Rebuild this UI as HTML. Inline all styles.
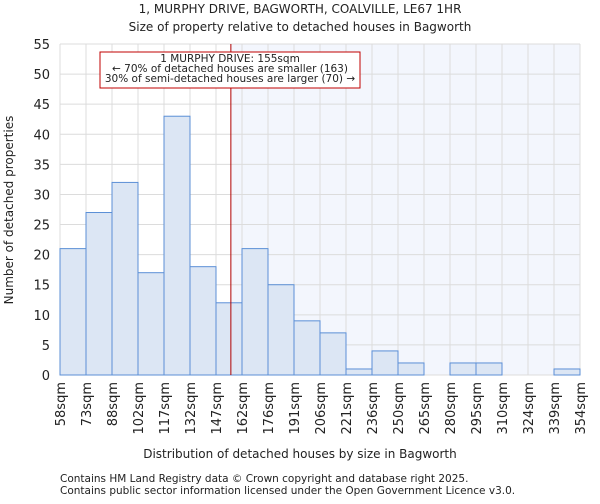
<!DOCTYPE html>
<html><head><meta charset="utf-8"><style>
body{margin:0;background:#fff;font-family:"DejaVu Sans","Liberation Sans",sans-serif}
svg text{font-family:"DejaVu Sans","Liberation Sans",sans-serif;fill:#222}
</style></head><body>
<svg id="c" width="600" height="500" xmlns="http://www.w3.org/2000/svg">
<text x="300" y="13" text-anchor="middle" font-size="12">1, MURPHY DRIVE, BAGWORTH, COALVILLE, LE67 1HR</text>
<text x="300" y="31" text-anchor="middle" font-size="12">Size of property relative to detached houses in Bagworth</text>
<g id="plot"></g>
<text x="300" y="458" text-anchor="middle" font-size="12">Distribution of detached houses by size in Bagworth</text>
<text transform="translate(13,210) rotate(-90)" text-anchor="middle" font-size="12">Number of detached properties</text>
<text x="60" y="482" font-size="10.5" fill="#444">Contains HM Land Registry data © Crown copyright and database right 2025.</text>
<text x="60" y="494" font-size="10.5" fill="#444">Contains public sector information licensed under the Open Government Licence v3.0.</text>
</svg>
<script>
const categories=["58sqm","73sqm","88sqm","102sqm","117sqm","132sqm","147sqm","162sqm","176sqm","191sqm","206sqm","221sqm","236sqm","250sqm","265sqm","280sqm","295sqm","310sqm","324sqm","339sqm","354sqm"];
const counts=[21,27,32,17,43,18,12,21,15,9,7,1,4,2,0,2,2,0,0,1];
const yTicks=[0,5,10,15,20,25,30,35,40,45,50,55];
const binEdges=[58,73,88,102,117,132,147,162,176,191,206,221,236,250,265,280,295,310,324,339,354];
const marker=155;
const NS="http://www.w3.org/2000/svg";
const g=document.getElementById('plot');
const X0=60,X1=580,Y0=375,Y1=44,YMAX=55;
const bw=(X1-X0)/counts.length;
const xi=i=>X0+i*bw;
const y=v=>Y0-(v/YMAX)*(Y0-Y1);
function mk(t,a){const e=document.createElementNS(NS,t);for(const k in a)e.setAttribute(k,a[k]);g.appendChild(e);return e;}
function xv(v){for(let i=0;i<binEdges.length-1;i++){if(v>=binEdges[i]&&v<=binEdges[i+1])return xi(i)+(v-binEdges[i])/(binEdges[i+1]-binEdges[i])*bw;}return X1;}
const mx=xv(marker)+1;
let e=mk('rect',{x:mx,y:Y1,width:X1-mx,height:Y0-Y1,fill:'#f3f6fd'});


yTicks.forEach(t=>{
 let l=mk('line',{x1:X0,x2:X1,y1:y(t),y2:y(t),stroke:'#dcdcdc'});
 
 
 let tx=mk('text',{x:X0-10,y:y(t)+5,'text-anchor':'end','font-size':'13'});tx.textContent=t;
 
 
});
categories.forEach((c,i)=>{
 let l=mk('line',{x1:xi(i),x2:xi(i),y1:Y1,y2:Y0,stroke:'#dcdcdc'});
 
 
 let tx=mk('text',{transform:`translate(${xi(i)+5},${Y0+7}) rotate(-90)`,'text-anchor':'end','font-size':'13'});tx.textContent=c;
 
 
});
counts.forEach((v,i)=>{
 if(v<=0)return;
 let r=mk('rect',{x:xi(i),y:y(v),width:bw,height:Y0-y(v),fill:'#dce6f4',stroke:'#5b8fd6','stroke-width':1});
 
 
});
let ml=mk('line',{x1:mx,x2:mx,y1:Y1,y2:Y0,stroke:'#b00000','stroke-width':1});


let bx=mk('rect',{x:100,y:52,width:260,height:36,fill:'#fff',stroke:'#c00000'});


["1 MURPHY DRIVE: 155sqm","← 70% of detached houses are smaller (163)","30% of semi-detached houses are larger (70) →"].forEach((s,i)=>{
 let t=mk('text',{x:230,y:62+i*10,'text-anchor':'middle','font-size':'10.5'});t.textContent=s;
 
 
});
</script>
</body></html>
